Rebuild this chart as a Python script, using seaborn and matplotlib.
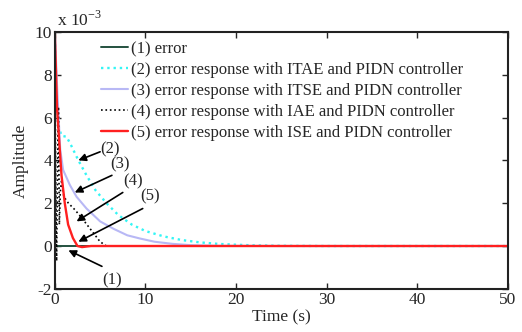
import pandas as pd
import seaborn as sns
import matplotlib.pyplot as plt

# values, amplitude in units of 1e-3
t_err = [0, 10, 20, 30, 40, 50]
v_err = [0, 0, 0, 0, 0, 0]

t_itae = [0, 0.15, 0.4, 0.74, 1.3, 1.8, 2.6, 3.5, 4.5, 5.7, 7, 8.5, 10, 12, 14, 16, 18, 20, 22, 25, 30, 40, 50]
v_itae = [10, 7, 5.6, 5.15, 5.1, 4.7, 4.0, 3.3, 2.6, 2.0, 1.45, 1.0, 0.7, 0.45, 0.28, 0.17, 0.1, 0.06, 0.03, 0.01, 0, 0, 0]

t_itse = [0, 0.3, 0.6, 0.92, 1.66, 2.4, 3.5, 5, 6.5, 8, 9.4, 11, 13, 15, 18, 25, 50]
v_itse = [10, 7, 4.5, 3.55, 2.85, 2.3, 1.75, 1.15, 0.8, 0.5, 0.35, 0.2, 0.1, 0.04, 0.01, 0, 0]

t_iae = [0, 0.1, 0.2, 0.3, 0.4, 0.5, 0.6, 0.75, 1.0, 1.5, 2.2, 2.9, 4, 5, 5.7, 6.5, 8, 50]
v_iae = [10, 3, -0.7, 4, 6.5, 1, 2.5, 3.1, 2.3, 2.0, 1.7, 1.35, 0.75, 0.2, 0, 0, 0, 0]

t_ise = [0, 0.25, 0.74, 1.1, 1.47, 2.0, 2.5, 3, 4, 5, 50]
v_ise = [10, 6.4, 3.3, 2.0, 1.0, 0.37, 0, -0.05, 0, 0, 0]

labels = ["(1) error",
          "(2) error response with ITAE and PIDN controller",
          "(3) error response with ITSE and PIDN controller",
          "(4) error response with IAE and PIDN controller",
          "(5) error response with ISE and PIDN controller"]

# annotation: label, text pos, arrow tail, arrow head (data units)
notes = [("(2)", (6.1, 4.5), (5.0, 4.4), (2.6, 4.0)),
         ("(3)", (7.2, 3.8), (6.3, 3.3), (2.2, 2.5)),
         ("(4)", (8.6, 3.0), (7.5, 2.5), (2.4, 1.15)),
         ("(5)", (10.5, 2.3), (9.7, 1.75), (2.6, 0.2)),
         ("(1)", (6.3, -1.6), (5.2, -0.95), (1.5, -0.2))]


def plot_lines():
    sns.set_theme(style="ticks")
    plt.rcParams['font.family'] = ['Liberation Serif', 'DejaVu Serif']
    plt.rcParams['axes.unicode_minus'] = False
    fig, ax = plt.subplots(figsize=(5.22, 3.32), dpi=100)
    fig.subplots_adjust(left=0.105, right=0.973, bottom=0.13, top=0.904)

    series = [(t_err, v_err, "#24513f", "-", 1.4),
              (t_itae, v_itae, "#33f5f5", ":", 1.7),
              (t_itse, v_itse, "#b8b8f5", "-", 1.5),
              (t_iae, v_iae, "black", ":", 1.2),
              (t_ise, v_ise, "#ff2020", "-", 1.7)]
    for (t, v, c, ls, lw), lab in zip(series, labels):
        df = pd.DataFrame({"t": t, "v": v})
        sns.lineplot(data=df, x="t", y="v", color=c, linestyle=ls, lw=lw,
                     label=lab, ax=ax)

    for txt, tpos, tail, head in notes:
        ax.annotate("", xy=head, xytext=tail,
                    arrowprops=dict(arrowstyle="-|>", color="black", lw=1.2,
                                    mutation_scale=11, shrinkA=0, shrinkB=0))
        ax.text(tpos[0], tpos[1], txt, fontsize=12, ha="center", va="center")

    ax.set_xlim(0, 50)
    ax.set_ylim(-2, 10)
    ax.set_xticks([0, 10, 20, 30, 40, 50])
    ax.set_yticks([-2, 0, 2, 4, 6, 8, 10])
    ax.set_xlabel("Time (s)", fontsize=12.5, labelpad=1)
    ax.set_ylabel("Amplitude", fontsize=12.5, labelpad=4)
    ax.tick_params(direction="in", top=True, right=True, length=4, width=1,
                   labelsize=12.5, pad=2)
    for s in ax.spines.values():
        s.set_linewidth(1.5)
        s.set_color("#222222")
    ax.text(0.005, 1.01, r"x 10$^{\mathregular{-3}}$", transform=ax.transAxes,
            fontsize=12.5, ha="left", va="bottom")

    ax.legend(loc="upper left", bbox_to_anchor=(0.088, 0.99), frameon=False,
              fontsize=12, handlelength=1.6, handletextpad=0.15,
              labelspacing=0.3, borderaxespad=0)
    return ax


def main():
    plot_lines()
    plt.savefig("out.png", dpi=100)


if __name__ == "__main__":
    main()
